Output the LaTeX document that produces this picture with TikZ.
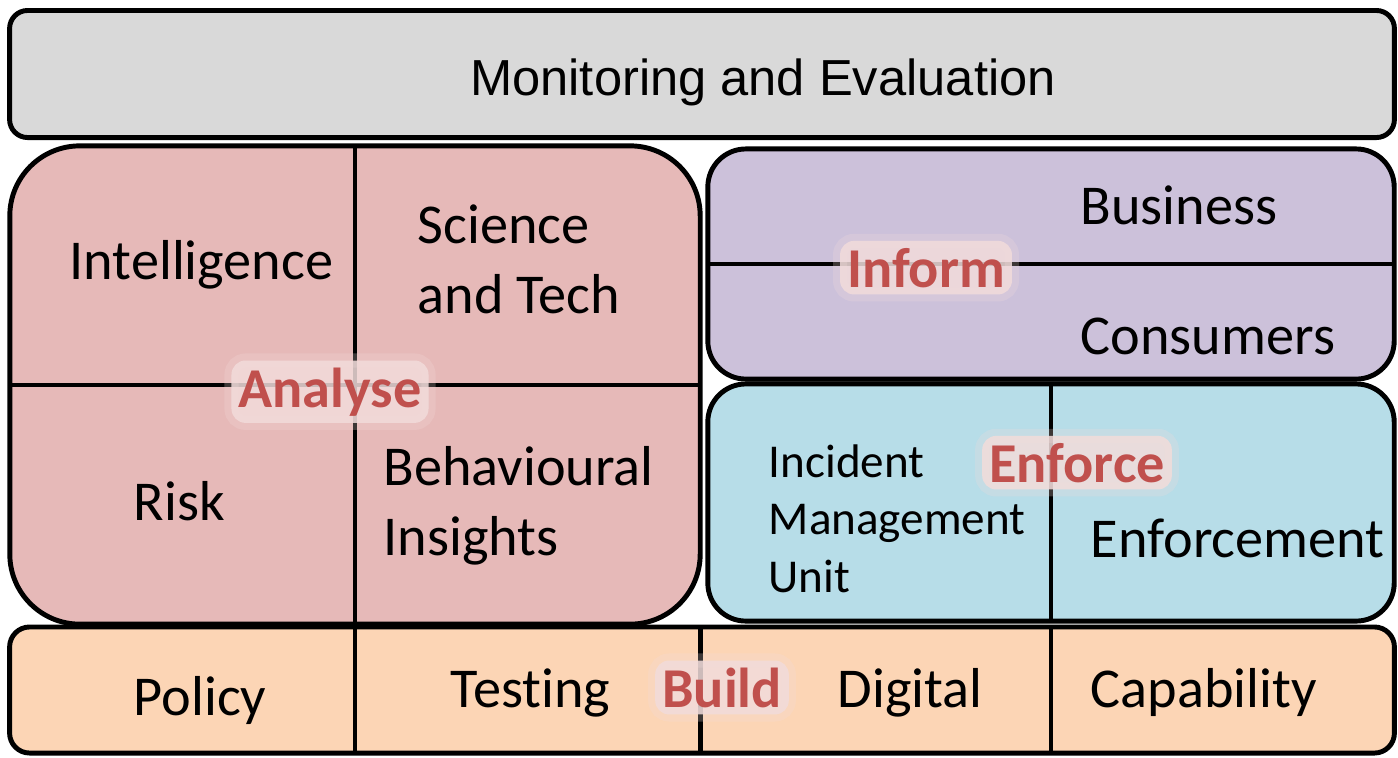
\documentclass[tikz,border=0pt]{standalone}
\usepackage{fontspec}
\setmainfont[Ligatures=NoCommon]{Carlito}
\newfontfamily\titlefont{Liberation Sans}

\definecolor{evalgray}{HTML}{D9D9D9}
\definecolor{analysered}{HTML}{E6B9B8}
\definecolor{informpurple}{HTML}{CCC1DA}
\definecolor{enforceblue}{HTML}{B7DDE8}
\definecolor{buildorange}{HTML}{FCD5B5}
\definecolor{tagred}{HTML}{C0504D}
\definecolor{glowpink}{HTML}{F2DCDB}

\begin{document}
\begin{tikzpicture}[x=0.01cm, y=-0.01cm,
        box/.style={draw, line width=1.4pt, inner sep=0pt, outer sep=0pt},
        divider/.style={line width=1.4pt},
        txt/.style={inner sep=0pt, align=left, font=\fontsize{16}{19.9}\selectfont},
        smalltxt/.style={inner sep=0pt, align=left, font=\fontsize{13.4}{16.3}\selectfont},
        tag/.style={inner sep=2pt, font=\fontsize{16}{19.9}\selectfont\bfseries, text=tagred,
            fill=glowpink, fill opacity=0.85, text opacity=1,
            draw=glowpink, draw opacity=0.25, line width=4pt, rounded corners=4pt}]
        \useasboundingbox (0,0) rectangle (1398,757);

        % Header
        \node[box, fill=evalgray, rounded corners=0.18cm, minimum width=13.84cm, minimum height=1.27cm] (monitor) at (702,74) {};
        \node[anchor=base, inner sep=0pt, font=\titlefont\fontsize{14.4}{17}\selectfont] (monitortxt) at (763,95) {Monitoring and Evaluation};

        % Analyse
        \node[box, fill=analysered, rounded corners=0.7cm, minimum width=6.9cm, minimum height=4.78cm] (analyse) at (355,385) {};
        \draw[divider] (analyse.north) -- (analyse.south);
        \draw[divider] (analyse.west) -- (analyse.east);
        \node[txt, anchor=base west] (intel) at (69,279) {Intelligence};
        \node[txt, anchor=base west] (scitech) at (417,313) {Science\\and Tech};
        \node[txt, anchor=base west] (risk) at (133,520) {Risk};
        \node[txt, anchor=base west] (behav) at (383,555) {Behavioural\\Insights};

        % Inform
        \node[box, fill=informpurple, rounded corners=0.38cm, minimum width=6.86cm, minimum height=2.3cm] (inform) at (1051,264) {};
        \draw[divider] (inform.west) -- (inform.east);
        \node[txt, anchor=base west] (business) at (1080,224) {Business};
        \node[txt, anchor=base west] (consumers) at (1080,354) {Consumers};

        % Enforce
        \node[box, fill=enforceblue, rounded corners=0.38cm, minimum width=6.86cm, minimum height=2.37cm] (enforce) at (1051,502.5) {};
        \draw[divider] (enforce.north) -- (enforce.south);
        \node[smalltxt, anchor=base west] (imu) at (768,592) {Incident\\Management\\Unit};
        \node[txt, anchor=base west] (enforcement) at (1090,557) {Enforcement};

        % Build
        \node[box, fill=buildorange, rounded corners=0.2cm, minimum width=13.84cm, minimum height=1.26cm] (build) at (702,690) {};
        \draw[divider] (analyse.south |- build.north) -- (analyse.south |- build.south);
        \draw[divider] (analyse.east |- build.north) -- (analyse.east |- build.south);
        \draw[divider] (enforce.south |- build.north) -- (enforce.south |- build.south);
        \node[txt, anchor=base west] (policy) at (133,715) {Policy};
        \node[txt, anchor=base west] (testing) at (450,707) {Testing};
        \node[txt, anchor=base west] (digital) at (837,707) {Digital};
        \node[txt, anchor=base west] (capability) at (1090,707) {Capability};

        % Tags
        \node[tag, anchor=base] (analysetag) at (330,407) {Analyse};
        \node[tag, anchor=base] (informtag) at (926,287) {Inform};
        \node[tag, anchor=base] (enforcetag) at (1077,482) {Enforce};
        \node[tag, anchor=base] (buildtag) at (722,707) {Build};
    \end{tikzpicture}
\end{document}
